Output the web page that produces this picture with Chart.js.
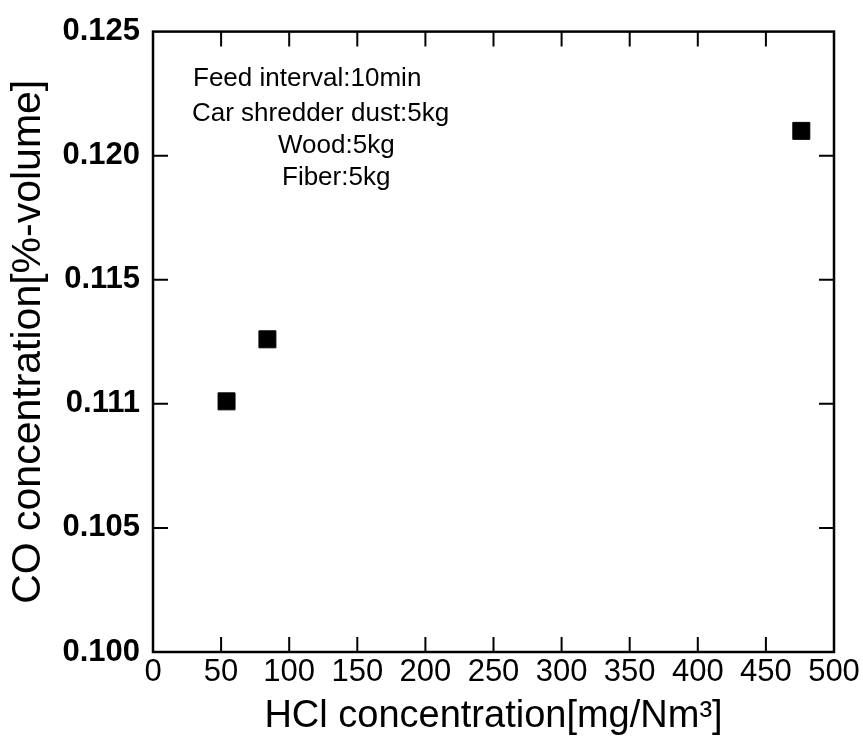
<!DOCTYPE html>
<html>
<head>
<meta charset="utf-8">
<script src="https://cdn.jsdelivr.net/npm/chart.js@4/dist/chart.umd.min.js"></script>
<style>
  body { margin: 0; background: #fff; }
  #wrap { width: 863px; height: 739px; }
</style>
</head>
<body>
<div id="wrap"><canvas id="chart" width="863" height="739"></canvas></div>
<script>
// HCl vs CO readings
let hclValues = [54, 84, 476];
let coValues = [0.1101, 0.1126, 0.1210];
let yTickLabels = ['0.100', '0.105', '0.111', '0.115', '0.120', '0.125'];
let noteLines = ['Feed interval:10min', 'Car shredder dust:5kg', 'Wood:5kg', 'Fiber:5kg'];

let points = hclValues.map((v, i) => ({ x: v, y: coValues[i] }));

// frame + inward ticks on all four sides
const frameTicks = {
    id: 'frameTicks',
    afterDatasetsDraw(chart) {
        let ctx = chart.ctx;
        let a = chart.chartArea;
        let xs = chart.scales.x;
        let ys = chart.scales.y;
        ctx.save();
        ctx.strokeStyle = '#000';
        ctx.lineWidth = 2;
        xs.ticks.forEach(t => {
            let px = xs.getPixelForValue(t.value);
            if (px <= a.left + 1 || px >= a.right - 1) return;
            ctx.beginPath();
            ctx.moveTo(px, a.bottom); ctx.lineTo(px, a.bottom - 15);
            ctx.moveTo(px, a.top); ctx.lineTo(px, a.top + 15);
            ctx.stroke();
        });
        ys.ticks.forEach(t => {
            let py = ys.getPixelForValue(t.value);
            if (py <= a.top + 1 || py >= a.bottom - 1) return;
            ctx.beginPath();
            ctx.moveTo(a.left, py); ctx.lineTo(a.left + 15, py);
            ctx.moveTo(a.right, py); ctx.lineTo(a.right - 15, py);
            ctx.stroke();
        });
        ctx.lineWidth = 2.5;
        ctx.strokeRect(a.left, a.top, a.right - a.left, a.bottom - a.top);
        ctx.restore();
    }
};

// condition notes in the upper left
const notes = {
    id: 'notes',
    afterDraw(chart) {
        let ctx = chart.ctx;
        let a = chart.chartArea;
        let offs = [[40, 47], [39, 82], [125, 114], [129, 146]];
        ctx.save();
        ctx.fillStyle = '#000';
        ctx.font = '26px "Liberation Sans", Arial, sans-serif';
        ctx.textBaseline = 'middle';
        noteLines.forEach((line, i) => {
            ctx.fillText(line, a.left + offs[i][0], a.top + offs[i][1]);
        });
        ctx.restore();
    }
};

let ctx = document.getElementById('chart');
let myChart = new Chart(ctx, {
    type: 'scatter',
    data: {
        datasets: [{
            data: points,
            pointStyle: 'rect',
            pointRadius: 12,
            pointHoverRadius: 12,
            backgroundColor: '#000',
            borderColor: '#000',
            borderWidth: 1
        }]
    },
    options: {
        responsive: false,
        animation: false,
        events: [],
        layout: { padding: { left: 0, top: 28, right: 29, bottom: 0 } },
        plugins: {
            legend: { display: false },
            tooltip: { enabled: false }
        },
        scales: {
            x: {
                type: 'linear',
                min: 0,
                max: 500,
                ticks: {
                    stepSize: 50,
                    color: '#000',
                    padding: 2,
                    maxRotation: 0,
                    font: { family: '"Liberation Sans", Arial, sans-serif', size: 31 }
                },
                grid: { display: false, drawTicks: false },
                border: { display: false },
                title: {
                    display: true,
                    text: 'HCl concentration[mg/Nm³]',
                    color: '#000',
                    padding: { top: 0, bottom: 0 },
                    font: { family: '"Liberation Sans", Arial, sans-serif', size: 38 }
                },
                afterFit(s) { s.height = 87; }
            },
            y: {
                type: 'linear',
                min: 0.1,
                max: 0.125,
                ticks: {
                    stepSize: 0.005,
                    color: '#000',
                    padding: 13,
                    font: { family: '"Liberation Sans", Arial, sans-serif', size: 31, weight: 'bold' },
                    callback: (value, index) => yTickLabels[index]
                },
                grid: { display: false, drawTicks: false },
                border: { display: false },
                title: {
                    display: true,
                    text: 'CO concentration[%-volume]',
                    color: '#000',
                    padding: { top: 4, bottom: 0 },
                    font: { family: '"Liberation Sans", Arial, sans-serif', size: 41 }
                },
                afterFit(s) { s.width = 153; }
            }
        }
    },
    plugins: [frameTicks, notes]
});
</script>
</body>
</html>
